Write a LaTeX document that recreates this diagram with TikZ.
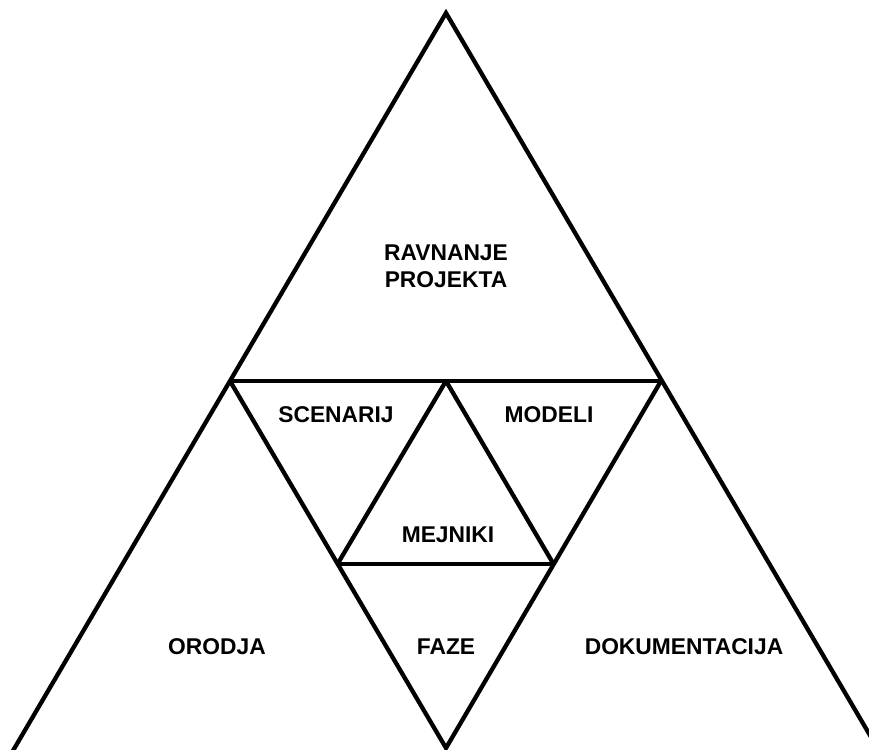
\documentclass[tikz,border=0pt]{standalone}
\usepackage{fontspec}
\setmainfont{Liberation Sans}
\begin{document}
\begin{tikzpicture}[x=1pt,y=-1pt,
  edge/.style={line width=4.3pt, line join=miter, black},
  lbl/.style={font=\fontsize{22.8}{27}\selectfont\bfseries, align=center, inner sep=0pt}]
  \useasboundingbox (0,0) rectangle (869,749);
  \clip (0,0) rectangle (869,749);
  % corner points of the pyramid
  \coordinate (top) at (446,13);
  \coordinate (midL) at (230,381);
  \coordinate (midR) at (661,381);
  \coordinate (midC) at (446,381);
  \coordinate (lowL) at (337.5,564);
  \coordinate (lowR) at (553.5,564);
  \coordinate (bot) at (446,748);
  \coordinate (footL) at (7.5,760);
  \coordinate (footR) at (884.5,760);
  % outer sides
  \draw[edge] (footL) -- (top) -- (footR);
  % central inverted triangle
  \draw[edge] (midL) -- (midR);
  \draw[edge] (midL) -- (bot) -- (midR);
  % inner upright triangle
  \draw[edge] (lowL) -- (midC);
  \draw[edge] (midC) -- (lowR);
  \draw[edge] (lowL) -- (lowR);
  % labels
  \node[lbl] (ravn) at (446,266) {RAVNANJE\\PROJEKTA};
  \node[lbl] (scen) at (336,415) {SCENARIJ};
  \node[lbl] (mode) at (549,415) {MODELI};
  \node[lbl] (mejn) at (448,535) {MEJNIKI};
  \node[lbl] (orod) at (217,647) {ORODJA};
  \node[lbl] (faze) at (446,647) {FAZE};
  \node[lbl] (doku) at (684,647) {DOKUMENTACIJA};
\end{tikzpicture}
\end{document}
